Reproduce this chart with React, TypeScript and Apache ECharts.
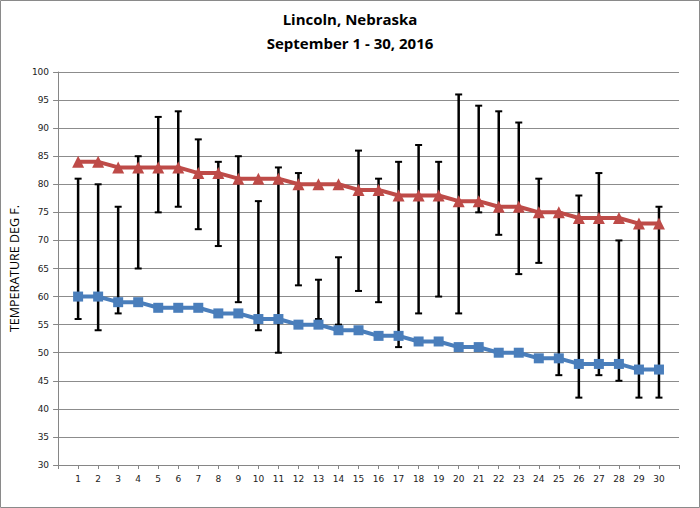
import React, { useEffect, useRef } from "react";
import * as echarts from "echarts";

const days = Array.from({ length: 30 }, (_, i) => i + 1);
const normalHigh = [84, 84, 83, 83, 83, 83, 82, 82, 81, 81, 81, 80, 80, 80, 79, 79, 78, 78, 78, 77, 77, 76, 76, 75, 75, 74, 74, 74, 73, 73];
const normalLow = [60, 60, 59, 59, 58, 58, 58, 57, 57, 56, 56, 55, 55, 54, 54, 53, 53, 52, 52, 51, 51, 50, 50, 49, 49, 48, 48, 48, 47, 47];
const actualHigh = [81, 80, 76, 85, 92, 93, 88, 84, 85, 77, 83, 82, 63, 67, 86, 81, 84, 87, 84, 96, 94, 93, 91, 81, 75, 78, 82, 70, 73, 76];
const actualLow = [56, 54, 57, 65, 75, 76, 72, 69, 59, 54, 50, 62, 56, 55, 61, 59, 51, 57, 60, 57, 75, 71, 64, 66, 46, 42, 46, 45, 42, 42];
const yTicks = { min: 30, max: 100, step: 5 };

export default function App() {
  const ref = useRef<HTMLDivElement>(null);
  useEffect(() => {
    const chart = echarts.init(ref.current!, undefined, { renderer: "svg" });
    const font = "'Open Sans', 'DejaVu Sans', sans-serif";
    chart.setOption({
      animation: false,
      backgroundColor: "#ffffff",
      graphic: [
        {
          type: "rect",
          shape: { x: 0.5, y: 0.5, width: 699, height: 507 },
          style: { fill: "none", stroke: "#8a8a8a", lineWidth: 1 },
          silent: true,
        },
        {
          type: "text",
          left: "center",
          top: 7,
          style: {
            text: "Lincoln, Nebraska\nSeptember 1 - 30, 2016",
            font: "bold 15px " + font,
            fill: "#000",
            textAlign: "center",
            lineHeight: 24,
          },
        },
      ],
      grid: { left: 48, right: 21, top: 72, bottom: 43 },
      xAxis: {
        type: "value",
        min: 0,
        max: 31,
        interval: 1,
        axisLine: { show: true, lineStyle: { color: "#868686", width: 1 } },
        axisTick: { show: true, length: 4, lineStyle: { color: "#868686" } },
        splitLine: { show: false },
        axisLabel: {
          margin: 9,
          fontSize: 9,
          fontFamily: "'DejaVu Sans', sans-serif",
          color: "#222",
          formatter: (v: number) => (v >= 1 && v <= 30 ? String(v) : ""),
        },
      },
      yAxis: {
        type: "value",
        min: yTicks.min,
        max: yTicks.max,
        interval: yTicks.step,
        name: "TEMPERATURE DEG F.",
        nameLocation: "middle",
        nameGap: 31,
        nameTextStyle: { fontSize: 12.5, fontFamily: font, color: "#000" },
        axisLine: { show: true, lineStyle: { color: "#868686", width: 1 } },
        axisTick: { show: true, length: 5, lineStyle: { color: "#868686" } },
        splitLine: { show: true, lineStyle: { color: "#8c8c8c", width: 1 } },
        axisLabel: {
          margin: 9,
          fontSize: 9,
          fontFamily: "'DejaVu Sans', sans-serif",
          color: "#222",
        },
      },
      series: [
        {
          type: "custom",
          name: "Range",
          z: 1,
          data: days.map((d, i) => [d, actualLow[i], actualHigh[i]]),
          encode: { x: 0, y: [1, 2] },
          renderItem: (params: any, api: any) => {
            const x = api.value(0);
            const lo = api.coord([x, api.value(1)]);
            const hi = api.coord([x, api.value(2)]);
            const cap = 3.5;
            const st = { stroke: "#000", lineWidth: 2.5 };
            return {
              type: "group",
              children: [
                { type: "line", shape: { x1: lo[0], y1: lo[1], x2: hi[0], y2: hi[1] }, style: st },
                { type: "line", shape: { x1: lo[0] - cap, y1: lo[1], x2: lo[0] + cap, y2: lo[1] }, style: { stroke: "#000", lineWidth: 2 } },
                { type: "line", shape: { x1: hi[0] - cap, y1: hi[1], x2: hi[0] + cap, y2: hi[1] }, style: { stroke: "#000", lineWidth: 2 } },
              ],
            };
          },
        },
        {
          type: "line",
          name: "Normal High",
          z: 3,
          data: days.map((d, i) => [d, normalHigh[i]]),
          symbol: "triangle",
          symbolSize: 12,
          lineStyle: { color: "#BE4B48", width: 4 },
          itemStyle: { color: "#BE4B48" },
        },
        {
          type: "line",
          name: "Normal Low",
          z: 3,
          data: days.map((d, i) => [d, normalLow[i]]),
          symbol: "rect",
          symbolSize: 10,
          lineStyle: { color: "#4A7EBB", width: 4 },
          itemStyle: { color: "#4A7EBB" },
        },
      ],
    });
    return () => chart.dispose();
  }, []);
  return (
    <div
      ref={ref}
      style={{ position: "absolute", left: 0, top: 0, width: 700, height: 508 }}
    />
  );
}
